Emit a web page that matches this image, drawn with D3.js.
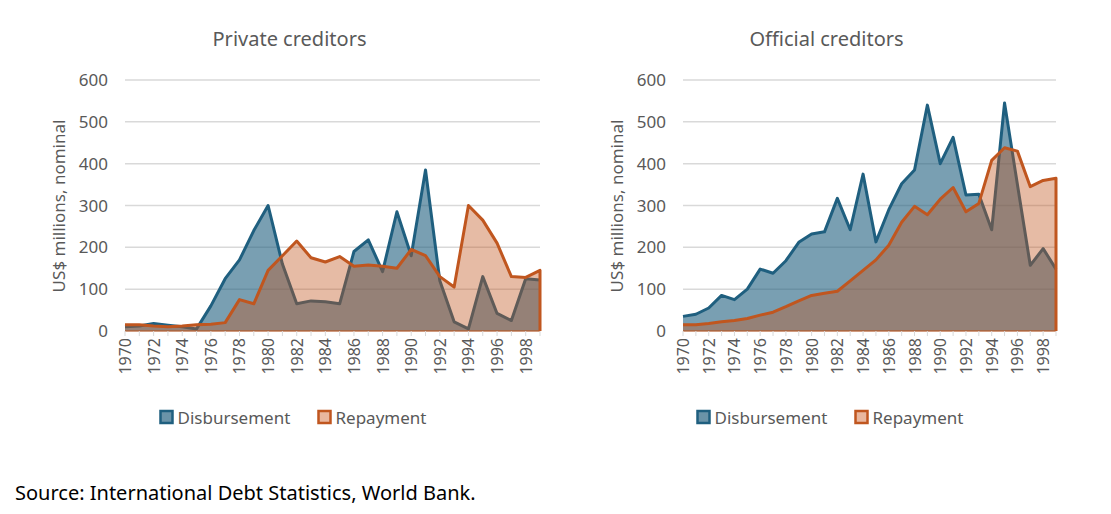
<!DOCTYPE html>
<html><head><meta charset="utf-8">
<script src="https://cdn.jsdelivr.net/npm/d3@7"></script>
<style>body{margin:0;background:#fff;font-family:"Noto Sans",sans-serif;}</style>
</head><body>
<svg width="1111" height="514"></svg>
<script>
var years = d3.range(1970, 2000);
var privDisb = [10,12,18,14,10,5,60,125,170,240,300,160,65,72,70,65,190,218,142,285,180,385,120,22,5,130,42,25,125,122];
var privRep = [15,15,12,10,12,15,16,20,75,65,145,180,215,175,165,178,155,158,155,150,195,180,130,105,300,265,210,130,128,145];
var offDisb = [35,40,55,85,75,100,148,138,168,212,232,237,317,242,375,213,290,352,385,540,400,463,325,327,242,545,350,157,197,148];
var offRep = [15,15,18,22,25,30,38,45,58,72,85,90,95,120,145,170,205,260,298,278,315,343,285,305,408,438,430,345,360,365];
var yTicks = [0,100,200,300,400,500,600];

var svg = d3.select('svg');
var grey = '#595959';

function panel(x0, x1, title, disb, rep) {
  var x = d3.scaleLinear().domain([1970, 1999]).range([x0, x1]);
  var y = d3.scaleLinear().domain([0, 600]).range([331, 80]);
  var g = svg.append('g');

  g.append('text').attr('x', (x0 + x1) / 2 - 43).attr('y', 46)
    .attr('text-anchor', 'middle').attr('font-size', 20).attr('fill', grey).text(title);

  g.selectAll('.grid').data(yTicks).enter().append('line')
    .attr('x1', x0).attr('x2', x1).attr('y1', y).attr('y2', y)
    .attr('stroke', '#d9d9d9').attr('stroke-width', 1.5);
  g.selectAll('.yl').data(yTicks).enter().append('text')
    .attr('x', x0 - 17).attr('y', function(d) { return y(d) + 6; })
    .attr('text-anchor', 'end').attr('font-size', 17).attr('fill', grey).text(function(d) { return d; });

  g.append('text').attr('transform', 'translate(' + [x0 - 60, 206] + ') rotate(-90)')
    .attr('text-anchor', 'middle').attr('font-size', 17).attr('fill', grey).text('US$ millions, nominal');

  var area = function(vals) {
    return d3.area().x(function(d, i) { return x(years[i]); }).y0(y(0)).y1(function(d) { return y(d); })(vals);
  };
  var line = function(vals) {
    return d3.line().x(function(d, i) { return x(years[i]); }).y(function(d) { return y(d); })(vals);
  };

  g.append('path').attr('d', area(disb)).attr('fill', '#1f5f7f').attr('fill-opacity', 0.6);
  g.append('path').attr('d', line(disb)).attr('fill', 'none').attr('stroke', '#1f5f7f').attr('stroke-width', 3).attr('stroke-linejoin', 'round');
  g.append('path').attr('d', area(rep)).attr('fill', '#c0561f').attr('fill-opacity', 0.4);
  g.append('path').attr('d', line(rep.concat([0])).replace(/L[^L]*$/, 'L' + x(1999) + ',' + y(0)))
    .attr('fill', 'none').attr('stroke', '#c0561f').attr('stroke-width', 3).attr('stroke-linejoin', 'round');
  g.append('line').attr('x1', x0).attr('x2', x1).attr('y1', y(0)).attr('y2', y(0)).attr('stroke', '#c0561f').attr('stroke-width', 1);

  g.selectAll('.tk').data(years).enter().append('line')
    .attr('x1', x).attr('x2', x).attr('y1', y(0)).attr('y2', y(0) + 5).attr('stroke', '#d9d9d9');
  g.selectAll('.xl').data(years.filter(function(d) { return d % 2 == 0; })).enter().append('text')
    .attr('transform', function(d) { return 'translate(' + [x(d) + 6, 338] + ') rotate(-90)'; })
    .attr('text-anchor', 'end').attr('font-size', 16).attr('fill', grey).text(function(d) { return d; });

  var lg = g.append('g').attr('transform', 'translate(' + [(x0 + x1) / 2 - 172, 418] + ')');
  [['Disbursement', '#1f5f7f', '#6a93a8', 0], ['Repayment', '#c0561f', '#e9b79e', 158]].forEach(function(l) {
    lg.append('rect').attr('x', l[3]).attr('y', -7).attr('width', 12).attr('height', 12)
      .attr('fill', l[2]).attr('stroke', l[1]).attr('stroke-width', 2.5);
    lg.append('text').attr('x', l[3] + 17).attr('y', 6).attr('font-size', 17).attr('fill', grey).text(l[0]);
  });
}

panel(125, 540, 'Private creditors', privDisb, privRep);
panel(683, 1056, 'Official creditors', offDisb, offRep);

svg.append('text').attr('x', 15).attr('y', 500).attr('font-size', 20).attr('fill', '#000')
  .text('Source: International Debt Statistics, World Bank.');
</script>
</body></html>
